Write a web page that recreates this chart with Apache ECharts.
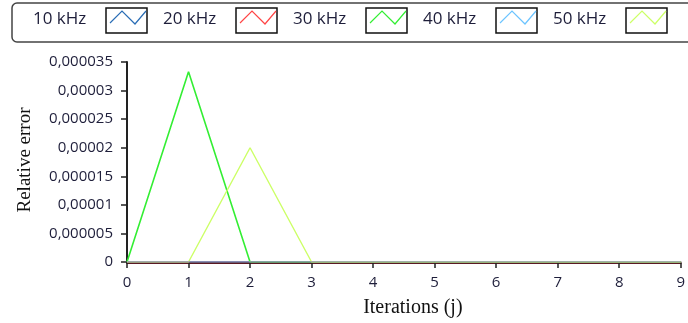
<!DOCTYPE html>
<html>
<head>
<meta charset="utf-8">
<script src="https://cdn.jsdelivr.net/npm/echarts@6/dist/echarts.min.js"></script>
<style>
html,body{margin:0;padding:0;background:#fff;overflow:hidden;}
#chart{width:688px;height:323px;}
</style>
</head>
<body>
<div id="chart"></div>
<script>
// ---- data ----
var iterations = [0, 1, 2, 3, 4, 5, 6, 7, 8, 9];
var seriesNames = ['10 kHz', '20 kHz', '30 kHz', '40 kHz', '50 kHz'];
var err10 = [0, 0, 0, 0, 0, 0, 0, 0, 0, 0];
var err20 = [0, 0, 0, 0, 0, 0, 0, 0, 0, 0];
var err30 = [0, 0.0000333, 0, 0, 0, 0, 0, 0, 0, 0];
var err40 = [0, 0, 0, 0, 0, 0, 0, 0, 0, 0];
var err50 = [0, 0, 0.0000200, 0, 0, 0, 0, 0, 0, 0];
var xTickLabels = ['0', '1', '2', '3', '4', '5', '6', '7', '8', '9'];
var yTickLabels = ['0', '0,000005', '0,00001', '0,000015', '0,00002', '0,000025', '0,00003', '0,000035'];

// ---- styles ----
var colors = ['#2a6db5', '#ff4545', '#33ee33', '#6cc4ff', '#ccff66'];
var zOrder = [2, 5, 3, 6, 4];
var widths = [1, 1.2, 1.6, 1, 1.4];
var allData = [err10, err20, err30, err40, err50];

var chart = echarts.init(document.getElementById('chart'));

var series = seriesNames.map(function (name, k) {
  return {
    name: name,
    type: 'line',
    xAxisIndex: 0,
    yAxisIndex: 0,
    data: iterations.map(function (x, i) { return [x, allData[k][i]]; }),
    showSymbol: false,
    symbol: 'none',
    lineStyle: { color: colors[k], width: widths[k] },
    itemStyle: { color: colors[k] },
    z: zOrder[k],
    animation: false
  };
});

// legend drawn LabVIEW-style: label then boxed icon
var graphics = [{
  type: 'rect',
  shape: { x: 12, y: 3, width: 800, height: 39, r: 5 },
  style: { fill: '#fff', stroke: '#444', lineWidth: 1.5 },
  z: 10
}];
seriesNames.forEach(function (name, k) {
  var tx = 33 + 130 * k;
  var bx = 106 + 130 * k, by = 8, bw = 41, bh = 25;
  graphics.push({
    type: 'text',
    x: tx, y: 19,
    style: {
      x: 0, y: 0, text: name,
      font: '17px "Open Sans", sans-serif',
      fill: '#1e1e3a',
      textVerticalAlign: 'middle', verticalAlign: 'middle'
    },
    z: 11
  });
  graphics.push({
    type: 'rect',
    shape: { x: bx, y: by, width: bw, height: bh },
    style: { fill: '#fff', stroke: '#111', lineWidth: 1.5 },
    z: 11
  });
  graphics.push({
    type: 'polyline',
    shape: { points: [
      [bx + 4, by + 15], [bx + 16, by + 3], [bx + 29, by + 16], [bx + 40, by + 3]
    ] },
    style: { stroke: colors[k], lineWidth: 1.2, fill: null },
    z: 12
  });
});
graphics.push({
  type: 'text',
  x: 25, y: 160,
  rotation: Math.PI / 2,
  style: {
    x: 0, y: 0, text: 'Relative error',
    font: '19px "Liberation Serif", serif', fill: '#111',
    textAlign: 'center', textVerticalAlign: 'middle', align: 'center', verticalAlign: 'middle'
  },
  z: 10
});

var option = {
  animation: false,
  grid: { left: 127, width: 560, top: 62, height: 201, containLabel: false },
  xAxis: [{
    type: 'value',
    min: 0, max: 9, interval: 1,
    offset: 1,
    axisLine: { show: true, onZero: false, lineStyle: { color: '#5a1822', width: 2 } },
    axisTick: { show: true, length: 5, lineStyle: { color: '#222', width: 1.5 } },
    axisLabel: {
      margin: 12,
      fontFamily: '"Open Sans", sans-serif', fontSize: 15, color: '#1e1e3a',
      formatter: function (v) { return xTickLabels[Math.round(v)]; }
    },
    splitLine: { show: false },
    name: 'Iterations (j)',
    nameLocation: 'middle',
    nameGap: 35,
    nameTextStyle: { fontFamily: '"Liberation Serif", serif', fontSize: 20, color: '#111', padding: [0, 0, 0, 18] }
  }, {
    type: 'value', position: 'top',
    min: 0, max: 9, interval: 1,
    axisLine: { show: true, lineStyle: { color: '#333', width: 1.5 } },
    axisTick: { show: false }, axisLabel: { show: false }, splitLine: { show: false }
  }],
  yAxis: [{
    type: 'value',
    min: 0, max: 0.000035, interval: 0.000005,
    axisLine: { show: true, onZero: false, lineStyle: { color: '#222', width: 2 } },
    axisTick: { show: true, length: 6, lineStyle: { color: '#222', width: 1.5 } },
    axisLabel: {
      margin: 14,
      fontFamily: '"Open Sans", sans-serif', fontSize: 15, color: '#1e1e3a',
      formatter: function (v) { return yTickLabels[Math.round(v / 0.000005)]; }
    },
    splitLine: { show: false }
  }],
  graphic: graphics,
  series: series
};
chart.setOption(option);
</script>
</body>
</html>
